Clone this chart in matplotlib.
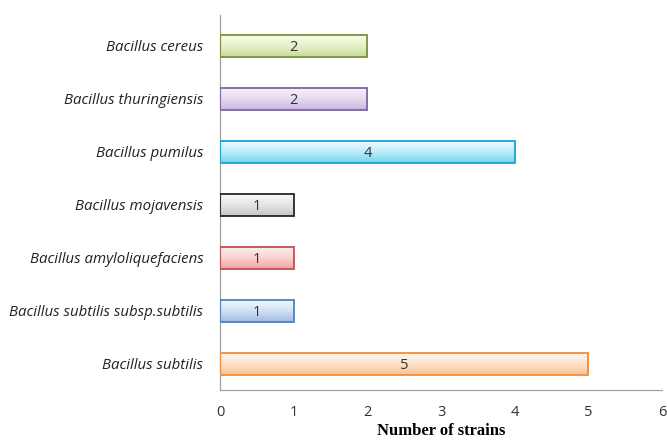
import numpy as np
import matplotlib.pyplot as plt
from matplotlib.colors import LinearSegmentedColormap

species = ["Bacillus subtilis", "Bacillus subtilis subsp.subtilis",
           "Bacillus amyloliquefaciens", "Bacillus mojavensis",
           "Bacillus pumilus", "Bacillus thuringiensis", "Bacillus cereus"]
strains = [5, 1, 1, 1, 4, 2, 2]

# light (top) / dark (bottom) gradient colours and edge colours
light = ["#FFF4EA", "#EEF5FD", "#FDEDED", "#F7F7F7", "#E6FBFF", "#F6EEFB", "#F8FBE6"]
dark = ["#FAC08F", "#9DBCE2", "#F0A09E", "#C4C4C4", "#6FD3EE", "#C9B7DD", "#C6DB98"]
edges = ["#F08C3C", "#4F81BD", "#C0504D", "#262626", "#1AA3D1", "#8064A2", "#77933C"]

fig = plt.figure(figsize=(6.67, 4.43), dpi=100)
ax = fig.add_axes([0.33, 0.12, 0.6625, 0.846])

y = np.arange(len(species))
h = 0.42
bars = ax.barh(y, strains, height=h, color="none", edgecolor=edges, linewidth=1.3, zorder=3)

grad = np.linspace(0, 1, 64).reshape(-1, 1) ** 1.5
for i, b in enumerate(bars):
    cm = LinearSegmentedColormap.from_list("g%d" % i, [light[i], dark[i]])
    im = ax.imshow(grad, cmap=cm, aspect="auto", origin="upper",
                   extent=(0, strains[i], y[i] - h / 2, y[i] + h / 2), zorder=2)
    im.set_clip_path(b)
    ax.text(strains[i] / 2, y[i], str(strains[i]), ha="center", va="center_baseline",
            fontsize=10.5, color="#333333", family="Open Sans", zorder=4)

ax.set_xlim(0, 6)
ax.set_ylim(-0.49, 6.58)
ax.set_yticks(y)
ax.set_yticklabels(species, fontsize=10.8, style="italic", family="Open Sans", color="#222222")
ax.set_xticks(range(7))
ax.set_xticklabels([str(i) for i in range(7)], fontsize=10.5, family="Open Sans", color="#333333")
ax.tick_params(length=0, pad=12)
ax.tick_params(axis="x", pad=11)
for s in ["top", "right"]:
    ax.spines[s].set_visible(False)
for s in ["left", "bottom"]:
    ax.spines[s].set_color("#A0A0A0")
    ax.spines[s].set_linewidth(0.9)
ax.set_xlabel("Number of strains", fontsize=12, fontweight="bold",
              family="Liberation Serif", labelpad=2)

fig.savefig("out.png", dpi=100)
